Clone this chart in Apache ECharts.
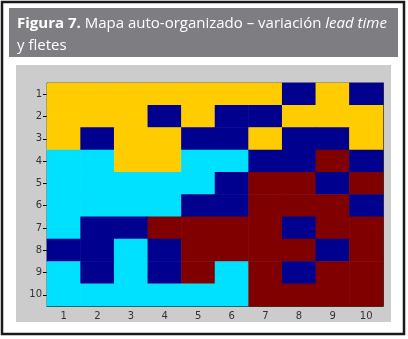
<!DOCTYPE html>
<html><head><meta charset="utf-8">
<script src="https://cdn.jsdelivr.net/npm/echarts@6/dist/echarts.min.js"></script>
<style>html,body{margin:0;padding:0;background:#fff}#c{width:408px;height:339px}</style>
</head><body><div id="c"></div>
<script>
const xLabels = ['1','2','3','4','5','6','7','8','9','10'];
const yLabels = ['1','2','3','4','5','6','7','8','9','10'];
// 0 = yellow, 1 = dark blue, 2 = cyan, 3 = dark red
const row1  = [0,0,0,0,0,0,0,1,0,1];
const row2  = [0,0,0,1,0,1,1,0,0,0];
const row3  = [0,1,0,0,1,1,0,1,1,0];
const row4  = [2,2,0,0,2,2,1,1,3,1];
const row5  = [2,2,2,2,2,1,3,3,1,3];
const row6  = [2,2,2,2,1,1,3,3,3,1];
const row7  = [2,1,1,3,3,3,3,1,3,3];
const row8  = [1,1,2,1,3,3,3,3,1,3];
const row9  = [2,1,2,1,3,2,3,1,3,3];
const row10 = [2,2,2,2,2,2,3,3,3,3];
const rows = [row1,row2,row3,row4,row5,row6,row7,row8,row9,row10];
const classColors = ['#FFCC00','#00008F','#00E1FF','#800000'];

const data = [];
rows.forEach((r, yi) => r.forEach((v, xi) => data.push([xi, yi, v])));

const chart = echarts.init(document.getElementById('c'), null, {renderer:'canvas'});
const axisCol = '#333';
const tf = 'Open Sans';
chart.setOption({
  animation: false,
  backgroundColor: '#fff',
  graphic: [
    {type:'rect', z:-10, shape:{x:2, y:2, width:402, height:332}, style:{fill:'#fff', stroke:'#1a1a1a', lineWidth:2.5}},
    {type:'rect', z:-9, shape:{x:9, y:8, width:389, height:49}, style:{fill:'#7e7d82'}},
    {type:'rect', z:-9, shape:{x:16, y:65, width:375, height:257}, style:{fill:'#cccccc'}}
  ],
  title: {
    left: 17, top: 13, padding: 0,
    text: '{b|Figura 7.} {n|Mapa auto-organizado – variación }{i|lead time}\n{n|y fletes}',
    textStyle: {
      color:'#fff', fontFamily:tf, fontSize:15, fontWeight:'normal', lineHeight:22,
      rich: {
        b:{fontWeight:'bold', color:'#fff', fontFamily:tf, fontSize:15, lineHeight:22},
        n:{fontWeight:'normal', color:'#fff', fontFamily:tf, fontSize:15, lineHeight:22},
        i:{fontWeight:'normal', fontStyle:'italic', color:'#fff', fontFamily:tf, fontSize:15, lineHeight:22}
      }
    }
  },
  grid: {left:47, top:83, width:336, height:223, show:true, borderColor:'#555', borderWidth:1, backgroundColor:'transparent'},
  xAxis: [
    {type:'category', data:xLabels, position:'bottom',
     axisLine:{show:true, lineStyle:{color:axisCol}},
     axisTick:{show:true, inside:true, alignWithLabel:true, length:4, lineStyle:{color:'#000'}},
     axisLabel:{color:'#333', fontSize:10, fontFamily:'DejaVu Sans', margin:5},
     splitLine:{show:false}},
    {type:'category', data:xLabels, position:'top',
     axisLine:{show:true, lineStyle:{color:axisCol}},
     axisTick:{show:true, inside:true, alignWithLabel:true, length:4, lineStyle:{color:'#000'}},
     axisLabel:{show:false}, splitLine:{show:false}}
  ],
  yAxis: [
    {type:'category', data:yLabels, inverse:true, position:'left',
     axisLine:{show:true, lineStyle:{color:axisCol}},
     axisTick:{show:true, inside:false, alignWithLabel:true, length:4, lineStyle:{color:'#000'}},
     axisLabel:{color:'#333', fontSize:10, fontFamily:'DejaVu Sans', margin:5},
     splitLine:{show:false}},
    {type:'category', data:yLabels, inverse:true, position:'right',
     axisLine:{show:true, lineStyle:{color:axisCol}},
     axisTick:{show:true, inside:true, alignWithLabel:true, length:4, lineStyle:{color:'#000'}},
     axisLabel:{show:false}, splitLine:{show:false}}
  ],
  visualMap: {
    type:'piecewise', show:false, dimension:2, seriesIndex:0,
    pieces: classColors.map((c, i) => ({value:i, color:c}))
  },
  series: [{
    type:'heatmap', xAxisIndex:0, yAxisIndex:0, data:data,
    itemStyle:{borderWidth:0},
    emphasis:{disabled:true}
  }]
});
</script></body></html>
